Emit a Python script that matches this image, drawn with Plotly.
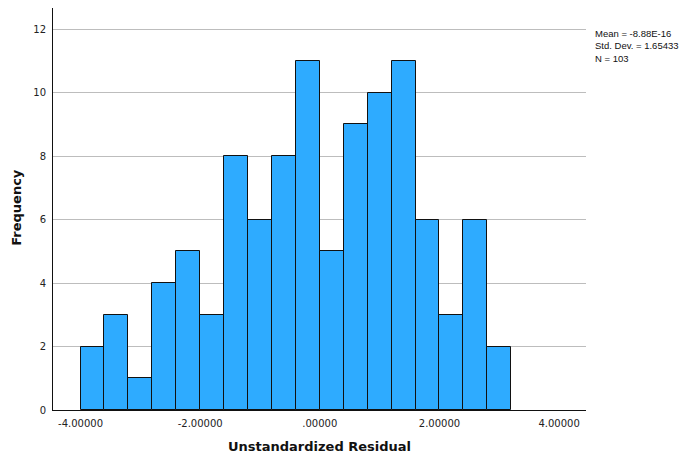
import plotly.graph_objects as go

# Histogram of unstandardized residuals (bins of width 0.4 starting at -4.0)
bin_start = -4.0
bin_width = 0.4
counts = [2, 3, 1, 4, 5, 3, 8, 6, 8, 11, 5, 9, 10, 11, 6, 3, 6, 2]
x_tick_vals = [-4, -2, 0, 2, 4]
x_tick_text = ["-4.00000", "-2.00000", ".00000", "2.00000", "4.00000"]
y_tick_vals = [0, 2, 4, 6, 8, 10, 12]
stats_lines = ["Mean = -8.88E-16", "Std. Dev. = 1.65433", "N = 103"]

centers = [bin_start + bin_width * (i + 0.5) for i in range(len(counts))]

fig = go.Figure()
fig.add_trace(go.Bar(
    x=centers, y=counts, width=bin_width,
    marker=dict(color="#2eabff", line=dict(color="#111111", width=1)),
    hoverinfo="x+y",
))

FONT = "DejaVu Sans"
fig.update_layout(
    width=691, height=457,
    margin=dict(l=53, r=105, t=8, b=47, autoexpand=False),
    paper_bgcolor="white", plot_bgcolor="white",
    showlegend=False, bargap=0,
    font=dict(family=FONT, size=10, color="#222222"),
    xaxis=dict(
        range=[-4.46, 4.45], tickvals=x_tick_vals, ticktext=x_tick_text,
        showgrid=False, zeroline=False, showline=True, linecolor="#111111", linewidth=1,
        ticks="outside", ticklen=4, tickcolor="rgba(0,0,0,0)", automargin=False,
        tickfont=dict(family=FONT, size=10, color="#222222"),
    ),
    yaxis=dict(
        range=[0, 12.67], tickvals=y_tick_vals,
        showgrid=True, gridcolor="#bdbdbd", gridwidth=1,
        zeroline=False, showline=True, linecolor="#111111", linewidth=1,
        ticks="outside", ticklen=4, tickcolor="rgba(0,0,0,0)", automargin=False,
        tickfont=dict(family=FONT, size=10, color="#222222"),
    ),
    annotations=[
        dict(text="<b>Unstandardized Residual</b>", xref="paper", yref="paper",
             x=0.5, y=-0.0896, xanchor="center", yanchor="middle", showarrow=False,
             font=dict(family=FONT, size=13, color="#111111")),
        dict(text="<b>Frequency</b>", xref="paper", yref="paper",
             x=-0.068, y=0.505, xanchor="center", yanchor="middle", showarrow=False,
             textangle=-90, font=dict(family=FONT, size=13, color="#111111")),
        dict(text="<br>".join(stats_lines), xref="paper", yref="paper",
             x=1.013, y=0.955, xanchor="left", yanchor="top", showarrow=False,
             align="left", font=dict(family="Liberation Sans", size=9.5, color="#111111")),
    ],
)

fig.write_html("out.html", config={"displayModeBar": False},
               post_script="document.body.style.margin='0';document.body.style.overflow='hidden';")
